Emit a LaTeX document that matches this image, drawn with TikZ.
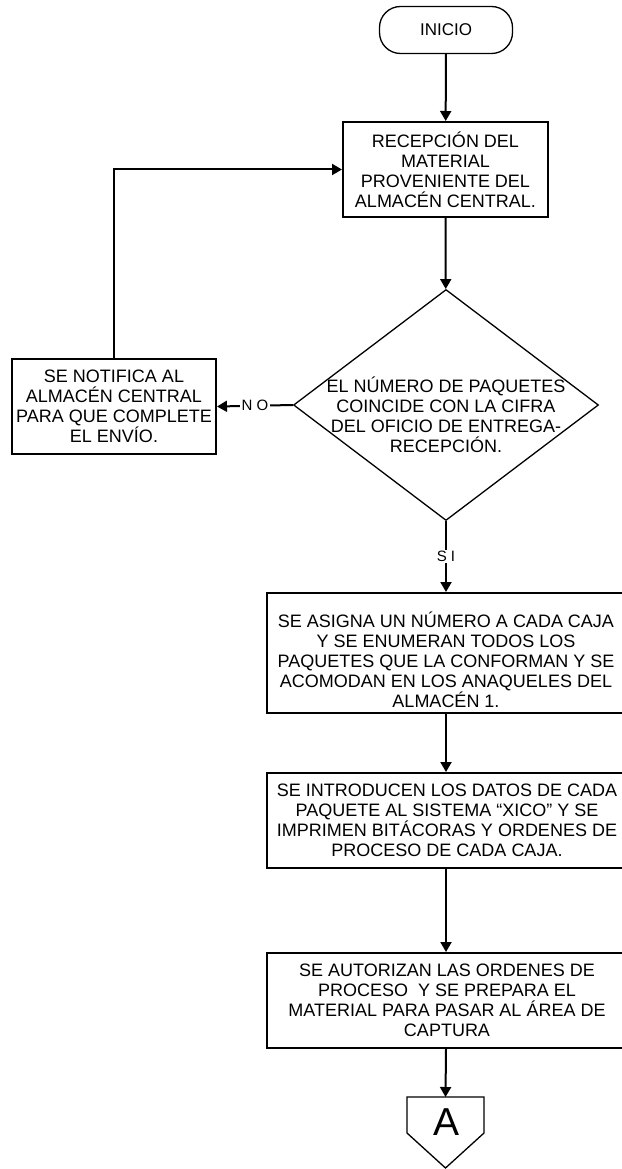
\documentclass[tikz,border=0pt]{standalone}
\usepackage{fontspec}
\setmainfont{Liberation Sans}
\usepackage{xcolor}
\usetikzlibrary{arrows.meta,shapes.geometric}
\definecolor{ink}{HTML}{000000}

\begin{document}
\begin{tikzpicture}[x=1pt,y=-1pt,
  every node/.style={text=ink},
  boxfont/.style={font=\fontsize{18}{20}\selectfont},
  procbox/.style={draw=ink,line width=2pt,rectangle,inner sep=0pt,align=center,boxfont},
  boxtext/.style={inner sep=0pt,align=center,boxfont},
  termbox/.style={draw=ink,line width=1.3pt,rounded corners=21pt,minimum width=133pt,minimum height=47pt,font=\fontsize{17}{20}\selectfont},
  decision/.style={draw=ink,line width=1.3pt,diamond,inner sep=0pt,minimum width=305pt,minimum height=231pt},
  flowlabel/.style={fill=white,inner sep=1.5pt,font=\fontsize{15}{16}\selectfont},
  flow/.style={draw=ink,line width=2pt,-{Triangle[length=10pt,width=11pt]}}]
  \useasboundingbox (0,0) rectangle (621,1169);
  \node[termbox] (inicio) at (446,30) {INICIO};
  \node[procbox,minimum width=205pt,minimum height=95pt] (recep) at (445.5,169.5)
    {RECEPCIÓN DEL\\MATERIAL\\PROVENIENTE DEL\\ALMACÉN CENTRAL.};
  \node[decision] (dec) at (446,405) {};
  \node[boxtext] (dectxt) at (446,415)
    {EL NÚMERO DE PAQUETES\\COINCIDE CON LA CIFRA\\DEL OFICIO DE ENTREGA-\\RECEPCIÓN.};
  \node[procbox,minimum width=204pt,minimum height=95pt] (notify) at (114,406.5)
    {SE NOTIFICA AL\\ALMACÉN CENTRAL\\PARA QUE COMPLETE\\EL ENVÍO.};
  \node[procbox,minimum width=360pt,minimum height=120pt] (asigna) at (447,653) {};
  \node[boxtext] (asignatxt) at (446,660)
    {SE ASIGNA UN NÚMERO A CADA CAJA\\Y SE ENUMERAN TODOS LOS\\PAQUETES QUE LA CONFORMAN Y SE\\ACOMODAN EN LOS ANAQUELES DEL\\ALMACÉN 1.};
  \node[procbox,minimum width=360pt,minimum height=95pt] (intro) at (447,820.5)
    {SE INTRODUCEN LOS DATOS DE CADA\\PAQUETE AL SISTEMA “XICO” Y SE\\IMPRIMEN BITÁCORAS Y ORDENES DE\\PROCESO DE CADA CAJA.};
  \node[procbox,minimum width=360pt,minimum height=95pt] (autoriza) at (447,1000.5)
    {SE AUTORIZAN LAS ORDENES DE\\PROCESO \ Y SE PREPARA EL\\MATERIAL PARA PASAR AL ÁREA DE\\CAPTURA};
  % conector fuera de pagina
  \draw[draw=ink,line width=1.3pt] (407,1097) -- (484,1097) -- (484,1133) -- (445.5,1168) -- (407,1133) -- cycle;
  \coordinate (conAtop) at (445.5,1097);
  \node[inner sep=0pt,font=\fontsize{39}{39}\selectfont] (conA) at (446,1122) {A};
  \foreach \a/\b in {inicio/recep,recep/dec}{\draw[flow] (\a) -- (\b);}
  \foreach \a/\b in {asigna/intro,intro/autoriza}{\draw[flow] (dec |- \a.south) -- (dec |- \b.north);}
  \draw[flow] (dec.south) -- node[flowlabel] (silbl) {S I} (dec |- asigna.north);
  \draw[flow] (dec.west) -- node[flowlabel] (nolbl) {N O} (notify.east);
  \draw[flow] (notify.north) |- (recep.west);
  \draw[flow] (dec |- autoriza.south) -- (conAtop);
\end{tikzpicture}
\end{document}
